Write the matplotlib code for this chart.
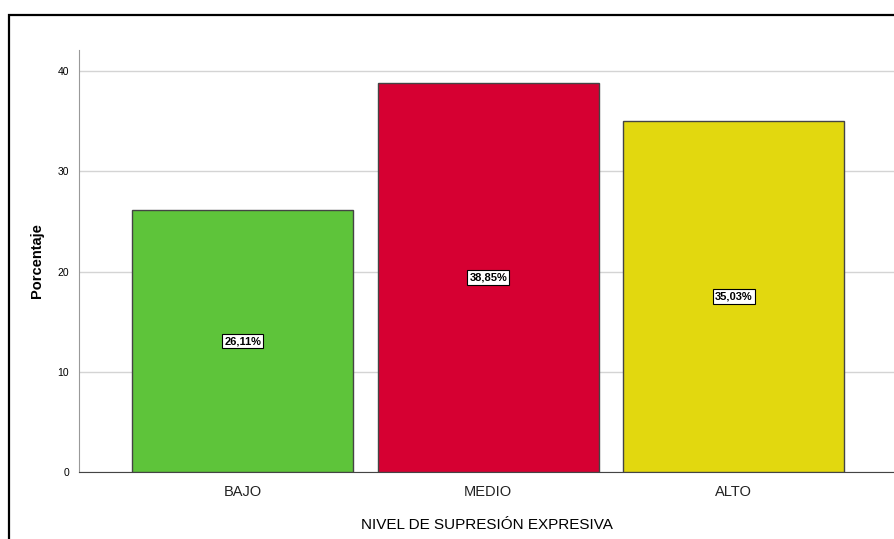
import matplotlib.pyplot as plt
from matplotlib.patches import Rectangle

# data
categorias = ['BAJO', 'MEDIO', 'ALTO']
porcentajes = [26.11, 38.85, 35.03]
colores = ['#5ec43a', '#d60032', '#e2d80f']

plt.rcParams['font.family'] = ['Liberation Sans', 'DejaVu Sans']

fig = plt.figure(figsize=(8.94, 5.39), dpi=100)
ax = fig.add_axes([0.0884, 0.1243, 0.9116, 0.7829])

x = range(len(categorias))
ax.bar(x, porcentajes, width=0.9, color=colores, edgecolor='#444444', linewidth=1, zorder=3)

for i, v in enumerate(porcentajes):
    ax.text(i, v / 2, f'{v:.2f}%'.replace('.', ','), ha='center', va='center',
            fontsize=8, fontweight='bold', zorder=4,
            bbox=dict(boxstyle='square,pad=0.2', fc='white', ec='black', lw=0.8))

ax.set_xlim(-0.666, 2.652)
ax.set_ylim(0, 42.1)
ax.set_yticks([0, 10, 20, 30, 40])
ax.set_xticks(list(x))
ax.set_xticklabels(categorias, fontsize=10.5, color='#222222')
ax.tick_params(axis='y', labelsize=7.5, length=0, pad=7)
ax.tick_params(axis='x', length=0, pad=9)
ax.yaxis.grid(True, color='#d4d4d4', linewidth=1, zorder=0)

for s in ['top', 'right']:
    ax.spines[s].set_visible(False)
ax.spines['left'].set_color('#999999')
ax.spines['bottom'].set_color('#444444')

ax.set_ylabel('Porcentaje', fontsize=10.5, fontweight='bold', labelpad=10)
ax.set_xlabel('NIVEL DE SUPRESIÓN EXPRESIVA', fontsize=11, labelpad=14)

# outer frame
fig.patches.append(Rectangle((0.0101, -0.2), 1.5, 1.172, transform=fig.transFigure,
                             fill=False, edgecolor='black', linewidth=1.6))

fig.savefig('out.png', dpi=100)
